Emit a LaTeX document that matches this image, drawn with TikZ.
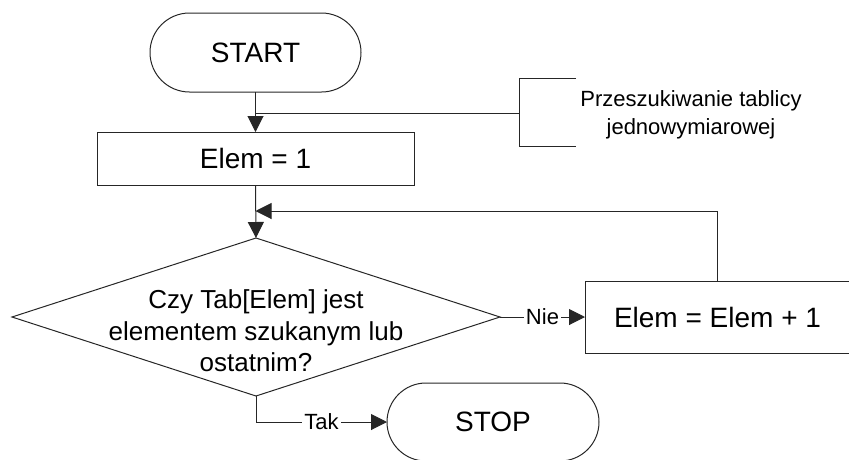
\documentclass[tikz,border=0pt]{standalone}
\usepackage{fontspec}
\setmainfont{Liberation Sans}
\usetikzlibrary{shapes.misc,shapes.geometric,arrows.meta}
\begin{document}
\begin{tikzpicture}[x=1pt,y=-1pt,
  line/.style={draw=black!85, line width=1pt},
  term/.style={line, rounded rectangle, minimum width=211pt, minimum height=79pt, outer sep=0pt, inner sep=0pt, font=\fontsize{28}{33}\selectfont},
  proc/.style={line, rectangle, minimum height=53pt, outer sep=0pt, font=\fontsize{28}{33}\selectfont},
  dec/.style={line, diamond, minimum width=488pt, minimum height=158pt, outer sep=0pt, inner sep=0pt},
  arr/.style={line, -{Triangle[length=16pt,width=16pt]}},
  lbl/.style={fill=white, inner xsep=2pt, inner ysep=1pt, font=\fontsize{22}{26}\selectfont}
]
\useasboundingbox (0,0) rectangle (849,459);
\node[term] (start) at (255.5,52.5) {START};
\node[proc, minimum width=317pt] (init) at (255.5,158.5) {Elem = 1};
\node[dec] (cond) at (256,317) {};
\node[align=center, font=\fontsize{26}{31.5}\selectfont] (condtext) at (256,331) {Czy Tab[Elem] jest\\elementem szukanym lub\\ostatnim?};
\node[proc, minimum width=265pt, minimum height=72pt] (inc) at (717.5,317) {Elem = Elem + 1};
\node[term, minimum width=212pt, minimum height=78pt] (stop) at (493,422) {STOP};
\node[align=center, font=\fontsize{22}{28.3}\selectfont] (note) at (691,115) {Przeszukiwanie tablicy\\jednowymiarowej};
\coordinate (ja) at (255.5,113);
\coordinate (br) at (519,113);
\coordinate (btl) at (519,78);
\coordinate (btr) at (576,78);
\coordinate (bbl) at (519,146);
\coordinate (bbr) at (576,146);
\coordinate (loop) at (255.5,211);
\draw[arr] (start.south) -- (init.north);
\draw[line] (ja) -- (br);
\draw[line] (btr) -- (btl) -- (bbl) -- (bbr);
\draw[arr] (init.south) -- (cond.north);
\draw[arr] (inc.north) |- (loop);
\draw[arr] (cond.east) -- node[lbl]{Nie} (inc.west);
\draw[arr] (cond.south) |- node[lbl, pos=0.75]{Tak} (stop.west);
\end{tikzpicture}
\end{document}
